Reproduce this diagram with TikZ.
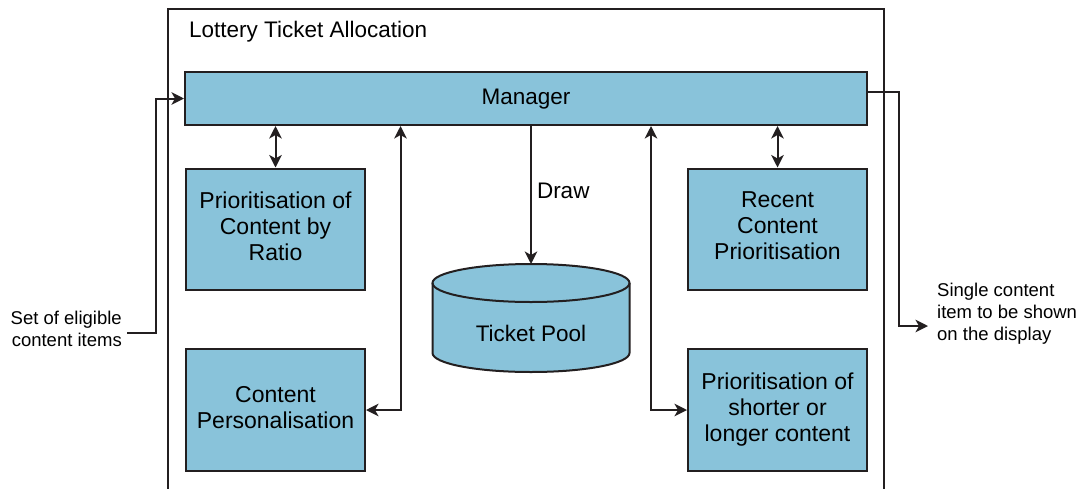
\documentclass[tikz,border=0pt]{standalone}
\usepackage{fontspec}
\setmainfont{Liberation Sans}
\usetikzlibrary{arrows.meta}
\definecolor{boxblue}{HTML}{89C3DA}
\definecolor{ink}{HTML}{231F20}
\begin{document}
\begin{tikzpicture}[x=1pt,y=-1pt,
  box/.style={draw=ink, fill=boxblue, line width=2pt, rectangle, inner sep=0pt, align=center,
    text depth=6pt, font=\fontsize{23}{26}\selectfont},
  lbl/.style={inner sep=0pt, font=\fontsize{22.5}{26}\selectfont},
  small/.style={inner sep=0pt, font=\fontsize{18.5}{22}\selectfont},
  conn/.style={draw=ink, line width=2pt},
  tip/.tip={Stealth[length=12.5pt,width=12.5pt,inset=3.5pt]},
  arr/.style={conn, -tip},
  dblarr/.style={conn, tip-tip},
  frame/.style={draw=ink, line width=2pt}
]
\useasboundingbox (0,0) rectangle (1082,488);

% outer frame
\draw[frame] (167.5,492) -- (167.5,8.5) -- (883.5,8.5) -- (883.5,492);
\node[lbl, anchor=west] (title) at (189,32) {Lottery Ticket Allocation};

% boxes
\node[box, minimum width=682, minimum height=53, text depth=3pt, font=\fontsize{22.5}{26}\selectfont] (mgr) at (526,98.5) {Manager};
\node[box, minimum width=179, minimum height=121] (ratio) at (275.5,229) {Prioritisation of\\Content by\\Ratio};
\node[box, minimum width=179, minimum height=122] (pers) at (275.5,410) {Content\\Personalisation};
\node[box, minimum width=179, minimum height=121] (recent) at (777.5,229) {Recent\\Content\\Prioritisation};
\node[box, minimum width=179, minimum height=122] (short) at (777.5,410) {Prioritisation of\\shorter or\\longer content};

% cylinder
\fill[boxblue] (432.5,283) -- (432.5,353) arc[start angle=180,end angle=360,x radius=98.5pt,y radius=19pt] -- (629.5,283) arc[start angle=0,end angle=180,x radius=98.5pt,y radius=19pt] -- cycle;
\draw[draw=ink, line width=2pt] (432.5,283) -- (432.5,353) arc[start angle=180,end angle=360,x radius=98.5pt,y radius=19pt] -- (629.5,283);
\draw[draw=ink, line width=2pt] (531,283) ellipse [x radius=98.5pt, y radius=19pt];
\node[lbl] (pool) at (531,333) {Ticket Pool};
\coordinate (pooltop) at (531,264);

% connectors
\draw[arr] (mgr.south -| pooltop) -- (pooltop) node[lbl, pos=0.47, anchor=west, xshift=5pt] (drawlbl) {Draw};
\draw[dblarr] (ratio.north) -- (ratio.north |- mgr.south);
\draw[dblarr] (recent.north) -- (recent.north |- mgr.south);
\coordinate (pc) at (400.5,0);
\coordinate (sc) at (651,0);
\draw[dblarr] (pers.east) -| (pc |- mgr.south);
\draw[dblarr] (short.west) -| (sc |- mgr.south);

% input
\node[small, align=right, anchor=east] (inp) at (122,329) {Set of eligible\\content items};
\coordinate (instart) at (127,333);
\coordinate (inbend) at (156,333);
\draw[arr] (instart) -- (inbend) |- (mgr.west);

% output
\node[small, align=left, anchor=west] (out) at (937,314) {Single content\\item to be shown\\on the display};
\coordinate (outbend) at (898.5,326);
\coordinate (outend) at (928,326);
\draw[arr] ([yshift=6.5pt]mgr.east) -| (outbend) -- (outend);
\end{tikzpicture}
\end{document}
